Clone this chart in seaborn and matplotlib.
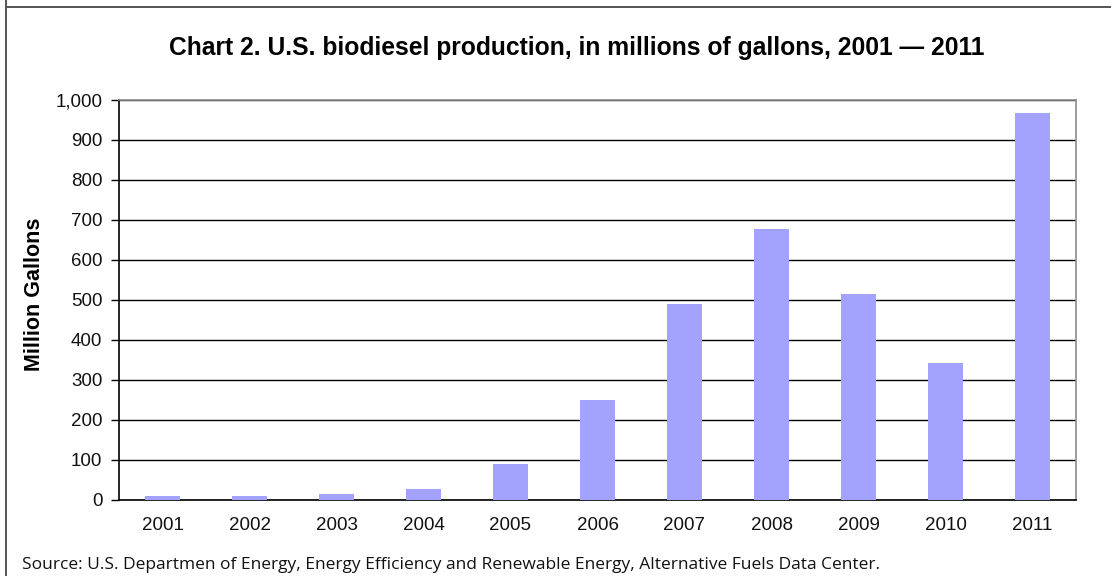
import matplotlib
matplotlib.use("Agg")
import matplotlib.pyplot as plt
import seaborn as sns
import pandas as pd
from matplotlib.lines import Line2D

years = ["2001", "2002", "2003", "2004", "2005", "2006", "2007", "2008", "2009", "2010", "2011"]
production = [9, 11, 14, 28, 91, 250, 490, 678, 516, 343, 967]
yticks = [0, 100, 200, 300, 400, 500, 600, 700, 800, 900, 1000]
ytick_labels = ["0", "100", "200", "300", "400", "500", "600", "700", "800", "900", "1,000"]

df = pd.DataFrame({"year": years, "value": production})

sns.set_theme(style="white")
plt.rcParams["font.family"] = ["Liberation Sans", "DejaVu Sans"]

W, H = 1111, 576
fig = plt.figure(figsize=(W / 100, H / 100), dpi=100)
ax = fig.add_axes([119 / W, 1 - 500 / H, (1076 - 119) / W, 400 / H])

sns.barplot(data=df, x="year", y="value", color="#A3A3FF", saturation=1,
            width=0.4, ax=ax, zorder=3, edgecolor="none", linewidth=0)

ax.set_ylim(0, 1000)
ax.set_xlim(-0.5, len(years) - 0.5)
ax.set_yticks(yticks)
ax.set_yticklabels(ytick_labels)
ax.yaxis.grid(True, color="black", linewidth=1.0, zorder=1)
ax.set_axisbelow(True)
ax.tick_params(axis="y", left=True, length=6, width=1, color="black",
               labelsize=13.5, pad=6, labelcolor="#111111")
ax.tick_params(axis="x", bottom=False, labelsize=13.5, pad=6, labelcolor="#111111")
ax.set_xlabel("")
ax.set_ylabel("Million Gallons", fontsize=15.5, fontweight="bold", color="black")
ax.yaxis.set_label_coords((45 - 119) / (1076 - 119), 0.515)

for s in ["left", "bottom"]:
    ax.spines[s].set_color("black")
    ax.spines[s].set_linewidth(1.2)
for s in ["top", "right"]:
    ax.spines[s].set_color("#8c8c8c")
    ax.spines[s].set_linewidth(1.2)

fig.text(577 / W, 1 - 48 / H, "Chart 2. U.S. biodiesel production, in millions of gallons, 2001 \u2014 2011",
         ha="center", va="center", fontsize=17.7, fontweight="bold", color="black")

fig.text(22 / W, 1 - 565 / H,
         "Source: U.S. Departmen of Energy, Energy Efficiency and Renewable Energy, Alternative Fuels Data Center.",
         ha="left", va="center", fontsize=12.5, family=["Open Sans", "DejaVu Sans"], color="#111111")

# outer frame (left and top borders of the surrounding box)
fig.add_artist(Line2D([6 / W, 6 / W], [0, 1], transform=fig.transFigure,
                      color="#555555", linewidth=1.4))
fig.add_artist(Line2D([6 / W, 1], [1 - 7 / H, 1 - 7 / H], transform=fig.transFigure,
                      color="#555555", linewidth=1.4))

fig.savefig("out.png", dpi=100, facecolor="white")
